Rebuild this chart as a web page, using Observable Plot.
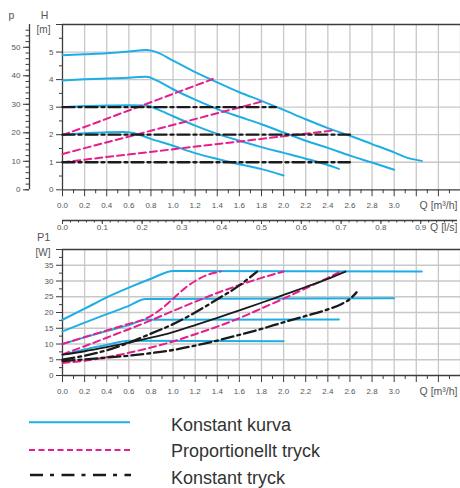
<!DOCTYPE html>
<html><head><meta charset="utf-8">
<script src="https://cdn.jsdelivr.net/npm/d3@7"></script>
<script src="https://cdn.jsdelivr.net/npm/@observablehq/plot@0.6"></script>
<style>
body{margin:0;background:#fff;font-family:"Liberation Sans",Arial,Helvetica,sans-serif;}
#wrap{position:relative;width:460px;height:488px;overflow:hidden;background:#fff;}
#legend{position:absolute;left:0;top:402px;width:460px;height:86px;}
.lg{position:absolute;left:171px;font-size:18px;line-height:20px;color:#333;white-space:nowrap;}
</style></head><body><div id="wrap"><div id="legend">
<svg width="140" height="86" style="position:absolute;left:0;top:0">
<line x1="29" x2="130" y1="20.3" y2="20.3" stroke="#1eaee6" stroke-width="2"/>
<line x1="29" x2="131" y1="48" y2="48" stroke="#e61e8c" stroke-width="2" stroke-dasharray="6,3.5"/>
<line x1="30" x2="131" y1="73" y2="73" stroke="#1a1a1a" stroke-width="2.4" stroke-dasharray="13,7,4,7.5"/>
</svg>
<div class="lg" style="top:12.7px">Konstant kurva</div>
<div class="lg" style="top:39.2px">Proportionellt tryck</div>
<div class="lg" style="top:65.7px">Konstant tryck</div>
</div></div>
<script>
// ---------- tick labels ----------
const qLabels = [0.0,0.2,0.4,0.6,0.8,1.0,1.2,1.4,1.6,1.8,2.0,2.2,2.4,2.6,2.8,3.0];   // Q [m3/h]
const qGrid = [0.2,0.4,0.6,0.8,1.0,1.2,1.4,1.6,1.8,2.0,2.2,2.4,2.6,2.8,3.0,3.2,3.4,3.6];
const lpsLabels = [0.0,0.1,0.2,0.3,0.4,0.5,0.6,0.7,0.8,0.9];                       // Q [l/s]
const hLabels = [0,1,2,3,4,5];                                                     // H [m]
const hGrid = [1,2,3,4,5];
const pLabels = [0,10,20,30,40,50];                                                // p [kPa]
const wLabels = [0,5,10,15,20,25,30,35];                                           // P1 [W]
const wGrid = [5,10,15,20,25,30,35];

// ---------- top panel: H [m] vs Q [m3/h] ----------
const kurvaH1 = [[0,4.88],[0.2,4.92],[0.4,4.96],[0.6,5.02],[0.76,5.07],[0.86,4.98],[1.0,4.69],[1.2,4.27],[1.4,3.9],[1.6,3.54],[1.8,3.23],[2.0,2.9],[2.2,2.56],[2.4,2.24],[2.6,1.96],[2.8,1.66],[3.0,1.36],[3.13,1.15],[3.25,1.05]];
const kurvaH2 = [[0,3.97],[0.2,4.01],[0.4,4.04],[0.6,4.07],[0.76,4.1],[0.85,3.97],[1.0,3.65],[1.2,3.27],[1.4,2.93],[1.6,2.65],[1.8,2.38],[2.0,2.08],[2.2,1.78],[2.4,1.52],[2.6,1.24],[2.8,0.99],[3.0,0.73]];
const kurvaH3 = [[0,3.0],[0.2,3.04],[0.4,3.06],[0.6,3.07],[0.76,3.06],[0.86,2.92],[1.0,2.67],[1.2,2.33],[1.4,2.03],[1.6,1.78],[1.8,1.55],[2.0,1.34],[2.2,1.13],[2.4,0.9],[2.5,0.76]];
const kurvaH4 = [[0,2.0],[0.2,2.05],[0.4,2.09],[0.55,2.1],[0.65,2.05],[0.8,1.85],[1.0,1.6],[1.2,1.33],[1.4,1.12],[1.6,0.93],[1.8,0.75],[2.0,0.52]];
const propH1 = [[0,1.98],[1.36,4.02]];
const propH2 = [[0,1.3],[1.8,3.2]];
const propH3 = [[0,1.0],[2.46,2.16]];
const tryckH1 = [[0,3.0],[1.93,3.0]];
const tryckH2 = [[0,2.0],[2.6,2.0]];
const tryckH3 = [[0,1.0],[2.6,1.0]];

// ---------- bottom panel: P1 [W] vs Q [m3/h] ----------
const kurvaP1 = [[0,17.7],[0.2,21.2],[0.4,24.8],[0.6,27.9],[0.8,30.7],[1.0,33.2],[3.25,33.0]];
const kurvaP2 = [[0,14.0],[0.2,16.8],[0.4,19.5],[0.6,22.1],[0.75,24.3],[3.0,24.5]];
const kurvaP3 = [[0,10.0],[0.2,12.1],[0.4,14.1],[0.6,16.0],[0.75,17.7],[2.5,17.8]];
const kurvaP4 = [[0,6.6],[0.2,8.3],[0.4,9.7],[0.6,11.0],[2.0,10.9]];
const propP1 = [[0,10.0],[0.2,12.2],[0.4,14.3],[0.6,16.4],[0.75,18.0],[0.9,21.3],[1.0,24.4],[1.1,27.5],[1.2,30.0],[1.3,31.8],[1.43,33.0]];
const propP2 = [[0,6.7],[0.2,9.3],[0.4,12.0],[0.6,14.7],[0.8,17.5],[1.0,20.5],[1.2,23.4],[1.4,26.2],[1.6,28.7],[1.8,31.0],[2.0,33.0]];
const propP3 = [[0,4.0],[0.2,4.7],[0.4,5.8],[0.6,7.2],[0.8,8.9],[1.0,10.8],[1.2,13.1],[1.4,15.5],[1.6,18.2],[1.8,21.3],[2.0,24.4],[2.2,27.7],[2.4,31.0],[2.5,32.8]];
const svartP = [[0,6.6],[0.2,7.7],[0.4,9.0],[0.6,10.4],[0.8,12.0],[1.0,13.8],[1.2,16.0],[1.4,18.3],[1.6,20.7],[1.8,23.1],[2.0,25.6],[2.2,28.1],[2.4,30.7],[2.56,33.0]];
const tryckP1 = [[0,5.0],[0.2,6.3],[0.4,8.0],[0.6,10.4],[0.8,13.3],[1.0,16.3],[1.2,20.0],[1.4,24.2],[1.6,28.6],[1.76,33.0]];
const tryckP2 = [[0,4.6],[0.2,5.1],[0.4,5.7],[0.6,6.3],[0.8,7.1],[1.0,8.1],[1.2,9.5],[1.4,11.1],[1.6,12.9],[1.8,14.8],[2.0,16.9],[2.2,18.9],[2.4,21.0],[2.53,22.8],[2.6,24.3],[2.66,26.4]];

// ---------- helpers ----------
const rows = (list) => list.flatMap((pts, i) => pts.map(([q, v]) => ({q, v, s: i})));
const FONT = "'Liberation Sans', Arial, Helvetica, sans-serif";
const AX = "#3c3c3c", GRID = "#c8c8c8", TXT = "#555";
const BLUE = "#1eaee6", PINK = "#e61e8c", BLACK = "#1a1a1a";
const SVGH = 402;
const qMinor = d3.range(0.1, 3.6, 0.2);
const qMajor = d3.range(0, 3.61, 0.2);
const wrap = document.getElementById("wrap");
function mount(svg){
  svg.style.position = "absolute"; svg.style.left = "0"; svg.style.top = "0";
  svg.style.background = "transparent"; svg.style.overflow = "visible";
  svg.style.fontFamily = FONT; svg.style.maxWidth = "none";
  wrap.insertBefore(svg, document.getElementById("legend"));
}
function qAxis(){
  return [
    Plot.axisX(qMinor, {anchor:"bottom", tickSize:4, tickFormat:()=>"", color:AX, label:null}),
    Plot.axisX(qMajor, {anchor:"bottom", tickSize:7, tickFormat:()=>"", color:AX, label:null}),
    Plot.axisX(qLabels, {anchor:"bottom", tickSize:0, tickPadding:12.5, tickFormat:d=>d.toFixed(1), fontSize:8, color:TXT, label:null}),
    Plot.text(["Q [m³/h]"], {text:d=>d, frameAnchor:"bottom-right", textAnchor:"end", lineAnchor:"middle", dx:-3, dy:16, fontSize:10.5, fill:TXT})
  ];
}
function curves(blue, pink, dashdot, solid){
  const m = [
    Plot.line(rows(blue), {x:"q", y:"v", z:"s", stroke:BLUE, strokeWidth:2, curve:"monotone-x"}),
    Plot.line(rows(pink), {x:"q", y:"v", z:"s", stroke:PINK, strokeWidth:2, strokeDasharray:"7,4", curve:"monotone-x"})
  ];
  if (solid) m.push(Plot.line(solid, {x:d=>d[0], y:d=>d[1], stroke:BLACK, strokeWidth:1.8, curve:"monotone-x"}));
  m.push(Plot.line(rows(dashdot), {x:"q", y:"v", z:"s", stroke:BLACK, strokeWidth:2.3, strokeDasharray:"12,4,3,4", curve:"monotone-x"}));
  return m;
}

// ---------- top chart ----------
const TOP_Y0 = 189.3, TOP_Y1 = 24;
mount(Plot.plot({
  width:460, height:SVGH, marginLeft:62, marginRight:0, marginTop:TOP_Y1, marginBottom:SVGH-TOP_Y0,
  x:{domain:[0,3.6]}, y:{domain:[0,6]},
  marks:[
    Plot.gridX(qGrid, {stroke:GRID, strokeOpacity:1, strokeWidth:1.3}),
    Plot.gridY(hGrid, {stroke:GRID, strokeOpacity:1, strokeWidth:1.3}),
    Plot.ruleY([6], {stroke:AX, strokeWidth:1.6}),
    Plot.ruleY([0], {stroke:AX, strokeWidth:1.3}),
    Plot.ruleX([0], {stroke:AX, strokeWidth:1.3}),
    ...qAxis(),
    Plot.axisY(d3.range(0.5, 6, 1), {anchor:"left", tickSize:3, tickFormat:()=>"", color:AX, label:null}),
    Plot.axisY([0,1,2,3,4,5,6], {anchor:"left", tickSize:6, tickFormat:()=>"", color:AX, label:null}),
    Plot.axisY(hLabels, {anchor:"left", tickSize:0, tickPadding:9, fontSize:8, color:TXT, label:null}),
    Plot.text(["H"], {text:d=>d, frameAnchor:"top-left", textAnchor:"middle", lineAnchor:"middle", dx:-18, dy:-9, fontSize:10.5, fill:TXT}),
    Plot.text(["[m]"], {text:d=>d, frameAnchor:"top-left", textAnchor:"middle", lineAnchor:"middle", dx:-19, dy:5.5, fontSize:10, fill:TXT}),
    Plot.text(["p"], {text:d=>d, frameAnchor:"top-left", textAnchor:"middle", lineAnchor:"middle", dx:-51, dy:-9, fontSize:10.5, fill:TXT}),
    ...curves([kurvaH1,kurvaH2,kurvaH3,kurvaH4],[propH1,propH2,propH3],[tryckH1,tryckH2,tryckH3], null)
  ]
}));

// ---------- p [kPa] axis ----------
mount(Plot.plot({
  width:460, height:SVGH, marginLeft:29, marginRight:421, marginTop:TOP_Y1, marginBottom:SVGH-TOP_Y0,
  x:{domain:[0,1], axis:null}, y:{domain:[0,58]},
  marks:[
    Plot.ruleX([0], {stroke:AX, strokeWidth:1.3}),
    Plot.axisY(d3.range(0, 58, 2), {anchor:"left", tickSize:3.5, tickFormat:()=>"", color:AX, label:null}),
    Plot.axisY(pLabels, {anchor:"left", tickSize:6, tickFormat:()=>"", color:AX, label:null}),
    Plot.axisY(pLabels, {anchor:"left", tickSize:0, tickPadding:9, fontSize:8, color:TXT, label:null})
  ]
}));

// ---------- Q [l/s] axis ----------
mount(Plot.plot({
  width:460, height:SVGH, marginLeft:62, marginRight:3, marginTop:210, marginBottom:SVGH-220,
  x:{domain:[0,(460-62-3)/(460-62)]}, y:{domain:[0,1], axis:null},
  marks:[
    Plot.ruleY([0], {stroke:AX, strokeWidth:1.3}),
    Plot.axisX(d3.range(0, 0.99, 0.02), {anchor:"bottom", tickSize:2.5, tickFormat:()=>"", color:AX, label:null}),
    Plot.axisX(lpsLabels, {anchor:"bottom", tickSize:4, tickFormat:()=>"", color:AX, label:null}),
    Plot.axisX(lpsLabels, {anchor:"bottom", tickSize:0, tickPadding:4, tickFormat:d=>d.toFixed(1), fontSize:8, color:TXT, label:null}),
    Plot.text(["Q [l/s]"], {text:d=>d, frameAnchor:"bottom-right", textAnchor:"end", lineAnchor:"middle", dx:0, dy:7, fontSize:10.5, fill:TXT})
  ]
}));

// ---------- bottom chart ----------
const BOT_Y0 = 375, BOT_Y1 = 249;
mount(Plot.plot({
  width:460, height:SVGH, marginLeft:62, marginRight:0, marginTop:BOT_Y1, marginBottom:SVGH-BOT_Y0,
  x:{domain:[0,3.6]}, y:{domain:[0,40]},
  marks:[
    Plot.gridX(qGrid, {stroke:GRID, strokeOpacity:1, strokeWidth:1.3}),
    Plot.gridY(wGrid, {stroke:GRID, strokeOpacity:1, strokeWidth:1.3}),
    Plot.ruleY([40], {stroke:AX, strokeWidth:1.6}),
    Plot.ruleY([0], {stroke:AX, strokeWidth:1.3}),
    Plot.ruleX([0], {stroke:AX, strokeWidth:1.3}),
    ...qAxis(),
    Plot.axisY(d3.range(2.5, 40, 5), {anchor:"left", tickSize:3, tickFormat:()=>"", color:AX, label:null}),
    Plot.axisY(d3.range(0, 41, 5), {anchor:"left", tickSize:6, tickFormat:()=>"", color:AX, label:null}),
    Plot.axisY(wLabels, {anchor:"left", tickSize:0, tickPadding:9, fontSize:8, color:TXT, label:null}),
    Plot.text(["P1"], {text:d=>d, frameAnchor:"top-left", textAnchor:"end", lineAnchor:"middle", dx:-12, dy:-12, fontSize:11, fill:TXT}),
    Plot.text(["[W]"], {text:d=>d, frameAnchor:"top-left", textAnchor:"end", lineAnchor:"middle", dx:-12, dy:3.5, fontSize:10, fill:TXT}),
    ...curves([kurvaP1,kurvaP2,kurvaP3,kurvaP4],[propP1,propP2,propP3],[tryckP1,tryckP2], svartP)
  ]
}));
</script></body></html>
